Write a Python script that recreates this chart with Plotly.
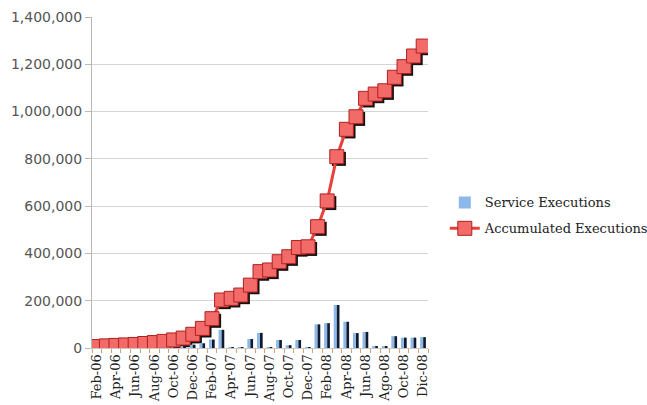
import plotly.graph_objects as go

months = ["Feb-06","Mar-06","Apr-06","May-06","Jun-06","Jul-06","Aug-06","Sep-06","Oct-06","Nov-06",
          "Dec-06","Jan-07","Feb-07","Mar-07","Apr-07","May-07","Jun-07","Jul-07","Aug-07","Sep-07",
          "Oct-07","Nov-07","Dec-07","Jan-08","Feb-08","Mar-08","Apr-08","May-08","Jun-08","Jul-08",
          "Ago-08","Sep-08","Oct-08","Nov-08","Dic-08"]
service = [6000, 3000, 2000, 2000, 2000, 4000, 4000, 5000, 6000, 8000,
           14000, 20000, 36000, 77000, 3000, 4000, 38000, 64000, 3000, 34000,
           12000, 34000, 2000, 100000, 105000, 182000, 111000, 63000, 68000, 8000,
           5000, 50000, 44000, 44000, 46000]
accumulated = [6000, 9000, 11000, 13000, 15000, 19000, 23000, 28000, 34000, 42000,
               58000, 83000, 124000, 203000, 210000, 224000, 266000, 323000, 330000, 365000,
               386000, 425000, 428000, 513000, 622000, 809000, 925000, 978000, 1056000, 1074000,
               1088000, 1145000, 1190000, 1235000, 1277000]
tick_labels = ["Feb-06","Apr-06","Jun-06","Aug-06","Oct-06","Dec-06","Feb-07","Apr-07","Jun-07",
               "Aug-07","Oct-07","Dec-07","Feb-08","Apr-08","Jun-08","Ago-08","Oct-08","Dic-08"]

idx = list(range(len(months)))
tick_idx = [i for i, m in enumerate(months) if m in tick_labels]

fig = go.Figure()

# shadow of the markers (base axes, shifted range)
fig.add_trace(go.Scatter(x=idx, y=accumulated, mode="markers", xaxis="x", yaxis="y",
                         marker=dict(symbol="square", size=14, color="#111111"),
                         showlegend=False, hoverinfo="skip"))

# bars: light blue face + dark side
fig.add_trace(go.Bar(x=idx, y=service, name="Service Executions", xaxis="x2", yaxis="y2",
                     legendgroup="a",
                     marker=dict(color="#8db8ea", line=dict(width=0)),
                     width=0.32, offset=-0.32))
fig.add_trace(go.Bar(x=idx, y=service, showlegend=False, xaxis="x2", yaxis="y2",
                     legendgroup="a",
                     marker=dict(color="#121a2e", line=dict(width=0)),
                     width=0.28, offset=0.0, hoverinfo="skip"))

fig.add_trace(go.Scatter(x=idx, y=accumulated, mode="lines+markers", name="Accumulated Executions",
                         xaxis="x2", yaxis="y2", legendgroup="b",
                         line=dict(color="#e8403c", width=3),
                         marker=dict(symbol="square", size=14, color="#f26b68",
                                     line=dict(color="#b02020", width=1))))

xr = [-0.5, 34.5]
yr = [0, 1400000]
fig.update_layout(
    width=647, height=405,
    margin=dict(l=92, r=219, t=17, b=57, autoexpand=False),
    paper_bgcolor="white", plot_bgcolor="white",
    barmode="overlay",
    xaxis=dict(range=[xr[0] - 0.22, xr[1] - 0.22], showgrid=False, showticklabels=False,
               zeroline=False, showline=False, ticks="", automargin=False),
    yaxis=dict(range=[yr[0] + 9000, yr[1] + 9000], showgrid=False, showticklabels=False,
               zeroline=False, showline=False, ticks="", automargin=False),
    xaxis2=dict(range=xr, overlaying="x", anchor="y2", tickmode="array", tickvals=tick_idx,
                ticktext=tick_labels, tickangle=-90, showgrid=False, zeroline=False,
                showline=True, linecolor="#c8c8c8", ticks="", automargin=False,
                minor=dict(tick0=-0.5, dtick=1, ticks="outside", ticklen=4, tickcolor="#d8a070"),
                tickfont=dict(family="DejaVu Serif", size=13, color="#222222")),
    yaxis2=dict(range=yr, overlaying="y", anchor="x2", side="left", dtick=200000,
                tickformat=",d", showgrid=True, gridcolor="#d4d4d4", gridwidth=1,
                zeroline=False, showline=True, linecolor="#b8b8b8", automargin=False,
                ticks="outside", ticklen=6, tickcolor="#b8b8b8",
                tickfont=dict(family="DejaVu Sans", size=14, color="#555555")),
    legend=dict(x=1.05, y=0.485, xanchor="left", yanchor="top",
                font=dict(family="DejaVu Serif", size=13, color="#222222"),
                bgcolor="rgba(0,0,0,0)", tracegroupgap=6),
)

fig.write_html("out.html")
